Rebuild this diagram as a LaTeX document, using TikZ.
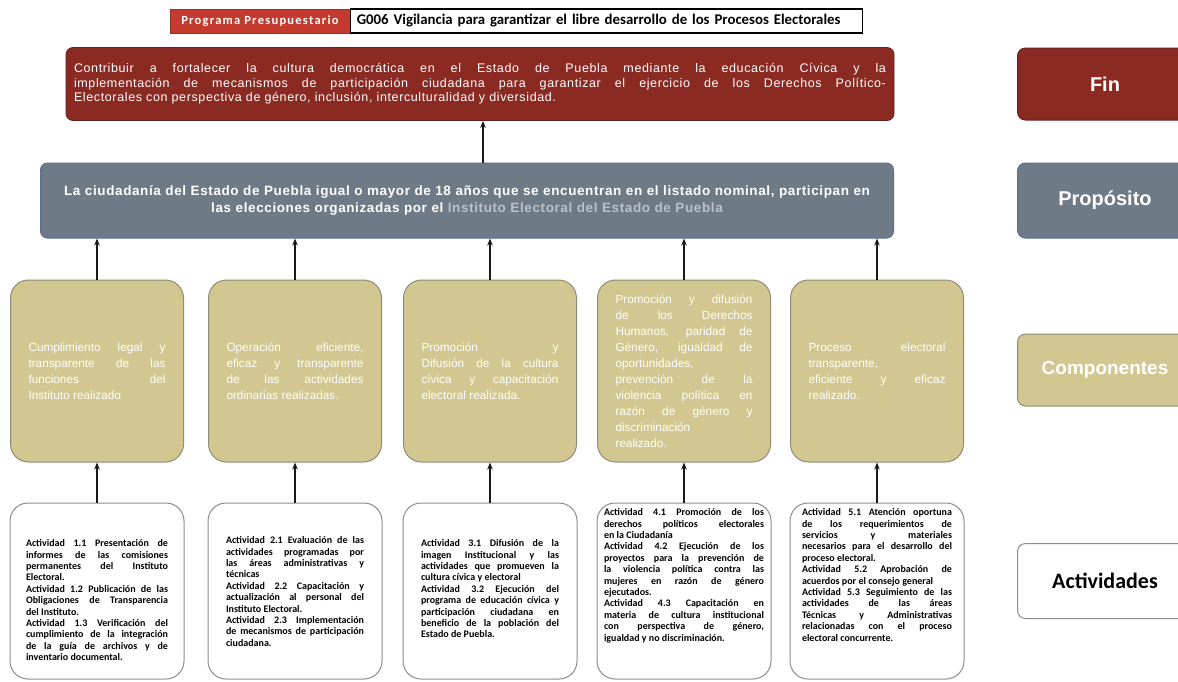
\documentclass[tikz,border=0pt]{standalone}
\usepackage{fontspec}
\setmainfont{Liberation Sans}
\newfontfamily\calfont{Carlito}
\usetikzlibrary{arrows.meta}
\definecolor{finred}{HTML}{8B2A22}
\definecolor{barred}{HTML}{C43A2E}
\definecolor{propgray}{HTML}{6E7A86}
\definecolor{propedge}{HTML}{5B6F8C}
\definecolor{comptan}{HTML}{D2C790}
\definecolor{compedge}{HTML}{8F8C76}
\definecolor{actedge}{HTML}{8C8C8C}
\definecolor{instgray}{HTML}{B9C1CC}
\begin{document}
\begin{tikzpicture}[x=1pt,y=-1pt,
 arr/.style={-{Stealth[length=7pt,width=5.5pt]}, line width=1.3pt, draw=black!90},
 ppbox/.style={rectangle, fill=barred, draw=barred!80!black, text=white, minimum width=180pt, minimum height=24pt, inner sep=0pt, font=\calfont\bfseries\addfontfeatures{LetterSpace=10}\fontsize{12.5}{14}\selectfont},
 gbox/.style={rectangle, fill=white, draw=black, line width=1.1pt, minimum height=24pt, inner xsep=6pt, inner ysep=0pt, text width=500pt, align=left, font=\calfont\bfseries\fontsize{14.8}{16}\selectfont},
 finbox/.style={rectangle, rounded corners=7pt, fill=finred, draw=finred!75!black, line width=0.8pt, text=white, minimum height=73pt, inner xsep=8pt, inner ysep=0pt, text width=812pt, align=justify, font=\addfontfeatures{LetterSpace=5}\fontsize{12.5}{14.5}\selectfont},
 propbox/.style={rectangle, rounded corners=7pt, fill=propgray, draw=propedge, line width=1pt, text=white, minimum height=75pt, inner xsep=10pt, inner ysep=0pt, text width=833pt, align=center, font=\bfseries\addfontfeatures{LetterSpace=4.5}\fontsize{13.5}{17}\selectfont},
 compbox/.style={rectangle, rounded corners=18pt, fill=comptan, draw=compedge, line width=1pt, text=white, minimum height=182pt, inner xsep=18pt, inner ysep=0pt, text width=137pt, align=justify, font=\fontsize{11.8}{16}\selectfont},
 actbox/.style={rectangle, rounded corners=18pt, fill=white, draw=actedge, line width=1pt, minimum width=174pt, minimum height=176pt, inner sep=0pt},
 acttext/.style={anchor=north, inner sep=0pt, align=justify, font=\calfont\bfseries\fontsize{10}{11.4}\selectfont},
 legend/.style={rectangle, rounded corners=8pt, minimum width=175pt, inner sep=0pt, line width=1pt, font=\bfseries\fontsize{20}{24}\selectfont}
]
\fill[white] (0,0) rectangle (1178,681);
\useasboundingbox (0,0) rectangle (1178,681);

% top bar
\node[ppbox] (pp) at (260,21) {Programa Presupuestario};
\node[gbox, anchor=west] (gp) at (pp.east) {G006 Vigilancia para garantizar el libre desarrollo de los Procesos Electorales};

% Fin
\node[finbox] (fin) at (480,84) {Contribuir a fortalecer la cultura democrática en el Estado de Puebla mediante la educación Cívica y la\linebreak implementación de mecanismos de participación ciudadana para garantizar el ejercicio de los Derechos Político-\linebreak Electorales con perspectiva de género, inclusión, interculturalidad y diversidad.};

% Proposito
\node[propbox] (prop) at (467,200.5) {La ciudadanía del Estado de Puebla igual o mayor de 18 años que se encuentran en el listado nominal, participan en\\ las elecciones organizadas por el \textcolor{instgray}{Instituto Electoral del Estado de Puebla}};

\coordinate (fx) at (483,0);
\draw[arr] (prop.north -| fx) -- (fin.south -| fx);

% Componentes
\node[compbox] (c1) at (97,371) {Cumplimiento legal y\linebreak transparente de las\linebreak funciones del\linebreak Instituto realizado};
\node[compbox] (c2) at (295,371) {Operación eficiente,\linebreak eficaz y transparente\linebreak de las actividades\linebreak ordinarias realizadas.};
\node[compbox] (c3) at (490,371) {Promoción y\linebreak Difusión de la cultura\linebreak cívica y capacitación\linebreak electoral realizada.};
\node[compbox] (c4) at (684,371) {Promoción y difusión\linebreak de los Derechos\linebreak Humanos, paridad de\linebreak Género, igualdad de\linebreak oportunidades,\par prevención de la\linebreak violencia política en\linebreak razón de género y\linebreak discriminación\par realizado.};
\node[compbox] (c5) at (877,371) {Proceso electoral\linebreak transparente,\par eficiente y eficaz\linebreak realizado.};

\foreach \c in {c1,c2,c3,c4,c5}{
  \draw[arr] (\c.north) -- (prop.south -| \c.north);
}

% Actividades
\node[actbox] (a1) at (97,591) {};
\node[actbox] (a2) at (295,591) {};
\node[actbox] (a3) at (490,591) {};
\node[actbox] (a4) at (684,591) {};
\node[actbox] (a5) at (877,591) {};

\node[acttext, text width=142pt] (a1t) at ([yshift=-37pt]a1.north) {Actividad 1.1 Presentación de\linebreak informes de las comisiones\linebreak permanentes del Instituto\linebreak Electoral.\par Actividad 1.2 Publicación de las\linebreak Obligaciones de Transparencia\linebreak del Instituto.\par Actividad 1.3 Verificación del\linebreak cumplimiento de la integración\linebreak de la guía de archivos y de\linebreak inventario documental.};
\node[acttext, text width=138pt] (a2t) at ([yshift=-34pt]a2.north) {Actividad 2.1 Evaluación de las\linebreak actividades programadas por\linebreak las áreas administrativas y\linebreak técnicas\par Actividad 2.2 Capacitación y\linebreak actualización al personal del\linebreak Instituto Electoral.\par Actividad 2.3 Implementación\linebreak de mecanismos de participación\linebreak ciudadana.};
\node[acttext, text width=138pt] (a3t) at ([yshift=-37pt]a3.north) {Actividad 3.1 Difusión de la\linebreak imagen Institucional y las\linebreak actividades que promueven la\linebreak cultura cívica y electoral\par Actividad 3.2 Ejecución del\linebreak programa de educación cívica y\linebreak participación ciudadana en\linebreak beneficio de la población del\linebreak Estado de Puebla.};
\node[acttext, text width=160pt] (a4t) at ([yshift=-6pt]a4.north) {Actividad 4.1 Promoción de los\linebreak derechos políticos electorales\linebreak en la Ciudadanía\par Actividad 4.2 Ejecución de los\linebreak proyectos para la prevención de\linebreak la violencia política contra las\linebreak mujeres en razón de género\linebreak ejecutados.\par Actividad 4.3 Capacitación en\linebreak materia de cultura institucional\linebreak con perspectiva de género,\linebreak igualdad y no discriminación.};
\node[acttext, text width=150pt] (a5t) at ([yshift=-6pt]a5.north) {Actividad 5.1 Atención oportuna\linebreak de los requerimientos de\linebreak servicios y materiales\linebreak necesarios para el desarrollo del\linebreak proceso electoral.\par Actividad 5.2 Aprobación de\linebreak acuerdos por el consejo general\par Actividad 5.3 Seguimiento de las\linebreak actividades de las áreas\linebreak Técnicas y Administrativas\linebreak relacionadas con el proceso\linebreak electoral concurrente.};

\foreach \i in {1,...,5}{
  \draw[arr] (a\i.north) -- (c\i.south);
}

% Legend
\begin{scope}
\clip (0,0) rectangle (1178,681);
\node[legend, fill=finred, draw=finred!75!black, text=white, minimum height=72pt] (lfin) at (1105,84) {Fin};
\node[legend, fill=propgray, draw=propedge, text=white, minimum height=75pt] (lprop) at (1105,200.5) {Propósito};
\node[legend, fill=comptan, draw=compedge, text=white, minimum height=72pt, font=\bfseries\fontsize{19}{22}\selectfont] (lcomp) at (1105,370) {Componentes};
\node[legend, fill=white, draw=actedge, text=black, minimum height=75pt, font=\calfont\bfseries\fontsize{22}{26}\selectfont] (lact) at (1105,581) {Actividades};
\end{scope}
\end{tikzpicture}
\end{document}
